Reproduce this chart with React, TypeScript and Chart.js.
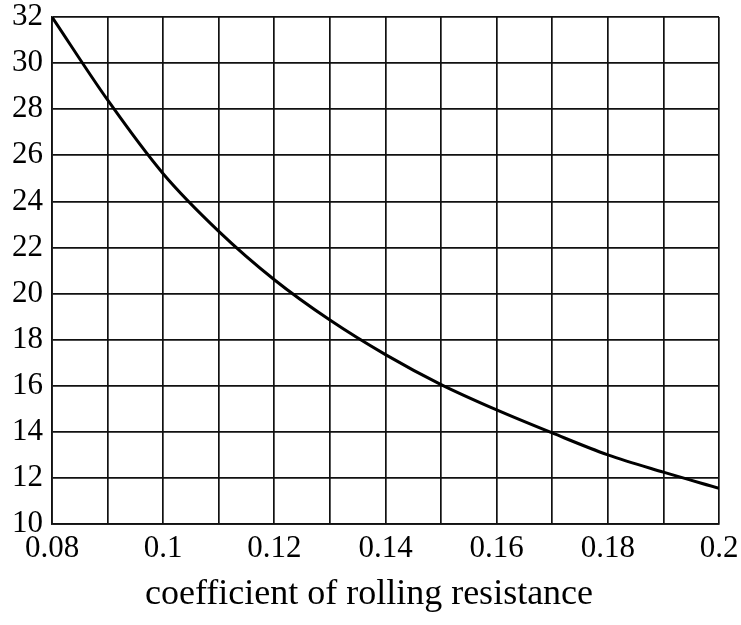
import React, { useEffect, useRef } from "react";
import { Chart, registerables } from "chart.js";

Chart.register(...registerables);

const coefficients = [0.08, 0.09, 0.1, 0.11, 0.12, 0.13, 0.14, 0.15, 0.16, 0.17, 0.18, 0.19, 0.2];
const values = [32.0, 28.4, 25.2, 22.7, 20.6, 18.85, 17.35, 16.05, 14.95, 13.95, 13.0, 12.25, 11.55];
const xTickLabels = ["0.08", "0.1", "0.12", "0.14", "0.16", "0.18", "0.2"];
const yTickLabels = ["10", "12", "14", "16", "18", "20", "22", "24", "26", "28", "30", "32"];
const xAxisTitle = "coefficient of rolling resistance";

const FONT = "'Liberation Serif', 'Times New Roman', serif";

export default function App() {
  const ref = useRef<HTMLCanvasElement>(null);

  useEffect(() => {
    document.body.style.margin = "0";
    const ctx = ref.current;
    if (!ctx) return;
    const chart = new Chart(ctx, {
      type: "line",
      data: {
        datasets: [
          {
            data: coefficients.map((x, i) => ({ x, y: values[i] })),
            borderColor: "#000",
            borderWidth: 3,
            pointRadius: 0,
            fill: false,
            cubicInterpolationMode: "monotone",
          },
        ],
      },
      options: {
        animation: false,
        responsive: false,
        devicePixelRatio: 1,
        layout: { padding: { top: 17, right: 3, left: 0, bottom: 0 } },
        plugins: {
          legend: { display: false },
          tooltip: { enabled: false },
          title: {
            display: true,
            position: "bottom",
            text: xAxisTitle,
            color: "#000",
            font: { family: FONT, size: 36, weight: "normal" },
            padding: { top: 0, bottom: 9 },
          },
        },
        scales: {
          x: {
            type: "linear",
            min: 0.08,
            max: 0.2,
            grid: { color: "#111", lineWidth: 1.7, drawTicks: false },
            border: { color: "#111", width: 1.7 },
            ticks: {
              stepSize: 0.01,
              autoSkip: false,
              maxRotation: 0,
              padding: 6,
              color: "#000",
              font: { family: FONT, size: 31 },
              callback: (_v: any, i: number) => (i % 2 === 0 ? xTickLabels[i / 2] : ""),
            },
            afterFit: (s: any) => {
              s.height = 48.8;
              s.paddingLeft = 0;
              s.paddingRight = 22;
            },
          },
          y: {
            type: "linear",
            min: 10,
            max: 32,
            grid: { color: "#111", lineWidth: 1.7, drawTicks: false },
            border: { color: "#111", width: 1.7 },
            ticks: {
              stepSize: 2,
              padding: 9,
              color: "#000",
              font: { family: FONT, size: 31 },
              callback: (_v: any, i: number) => yTickLabels[i],
            },
            afterFit: (s: any) => {
              s.width = 52;
              s.paddingTop = 0;
              s.paddingBottom = 0;
            },
          },
        },
      },
    });
    return () => chart.destroy();
  }, []);

  return (
    <div style={{ position: "fixed", left: 0, top: 0, width: 741, height: 625, background: "#fff" }}>
      <canvas ref={ref} width={741} height={625} style={{ width: 741, height: 625 }} />
    </div>
  );
}
